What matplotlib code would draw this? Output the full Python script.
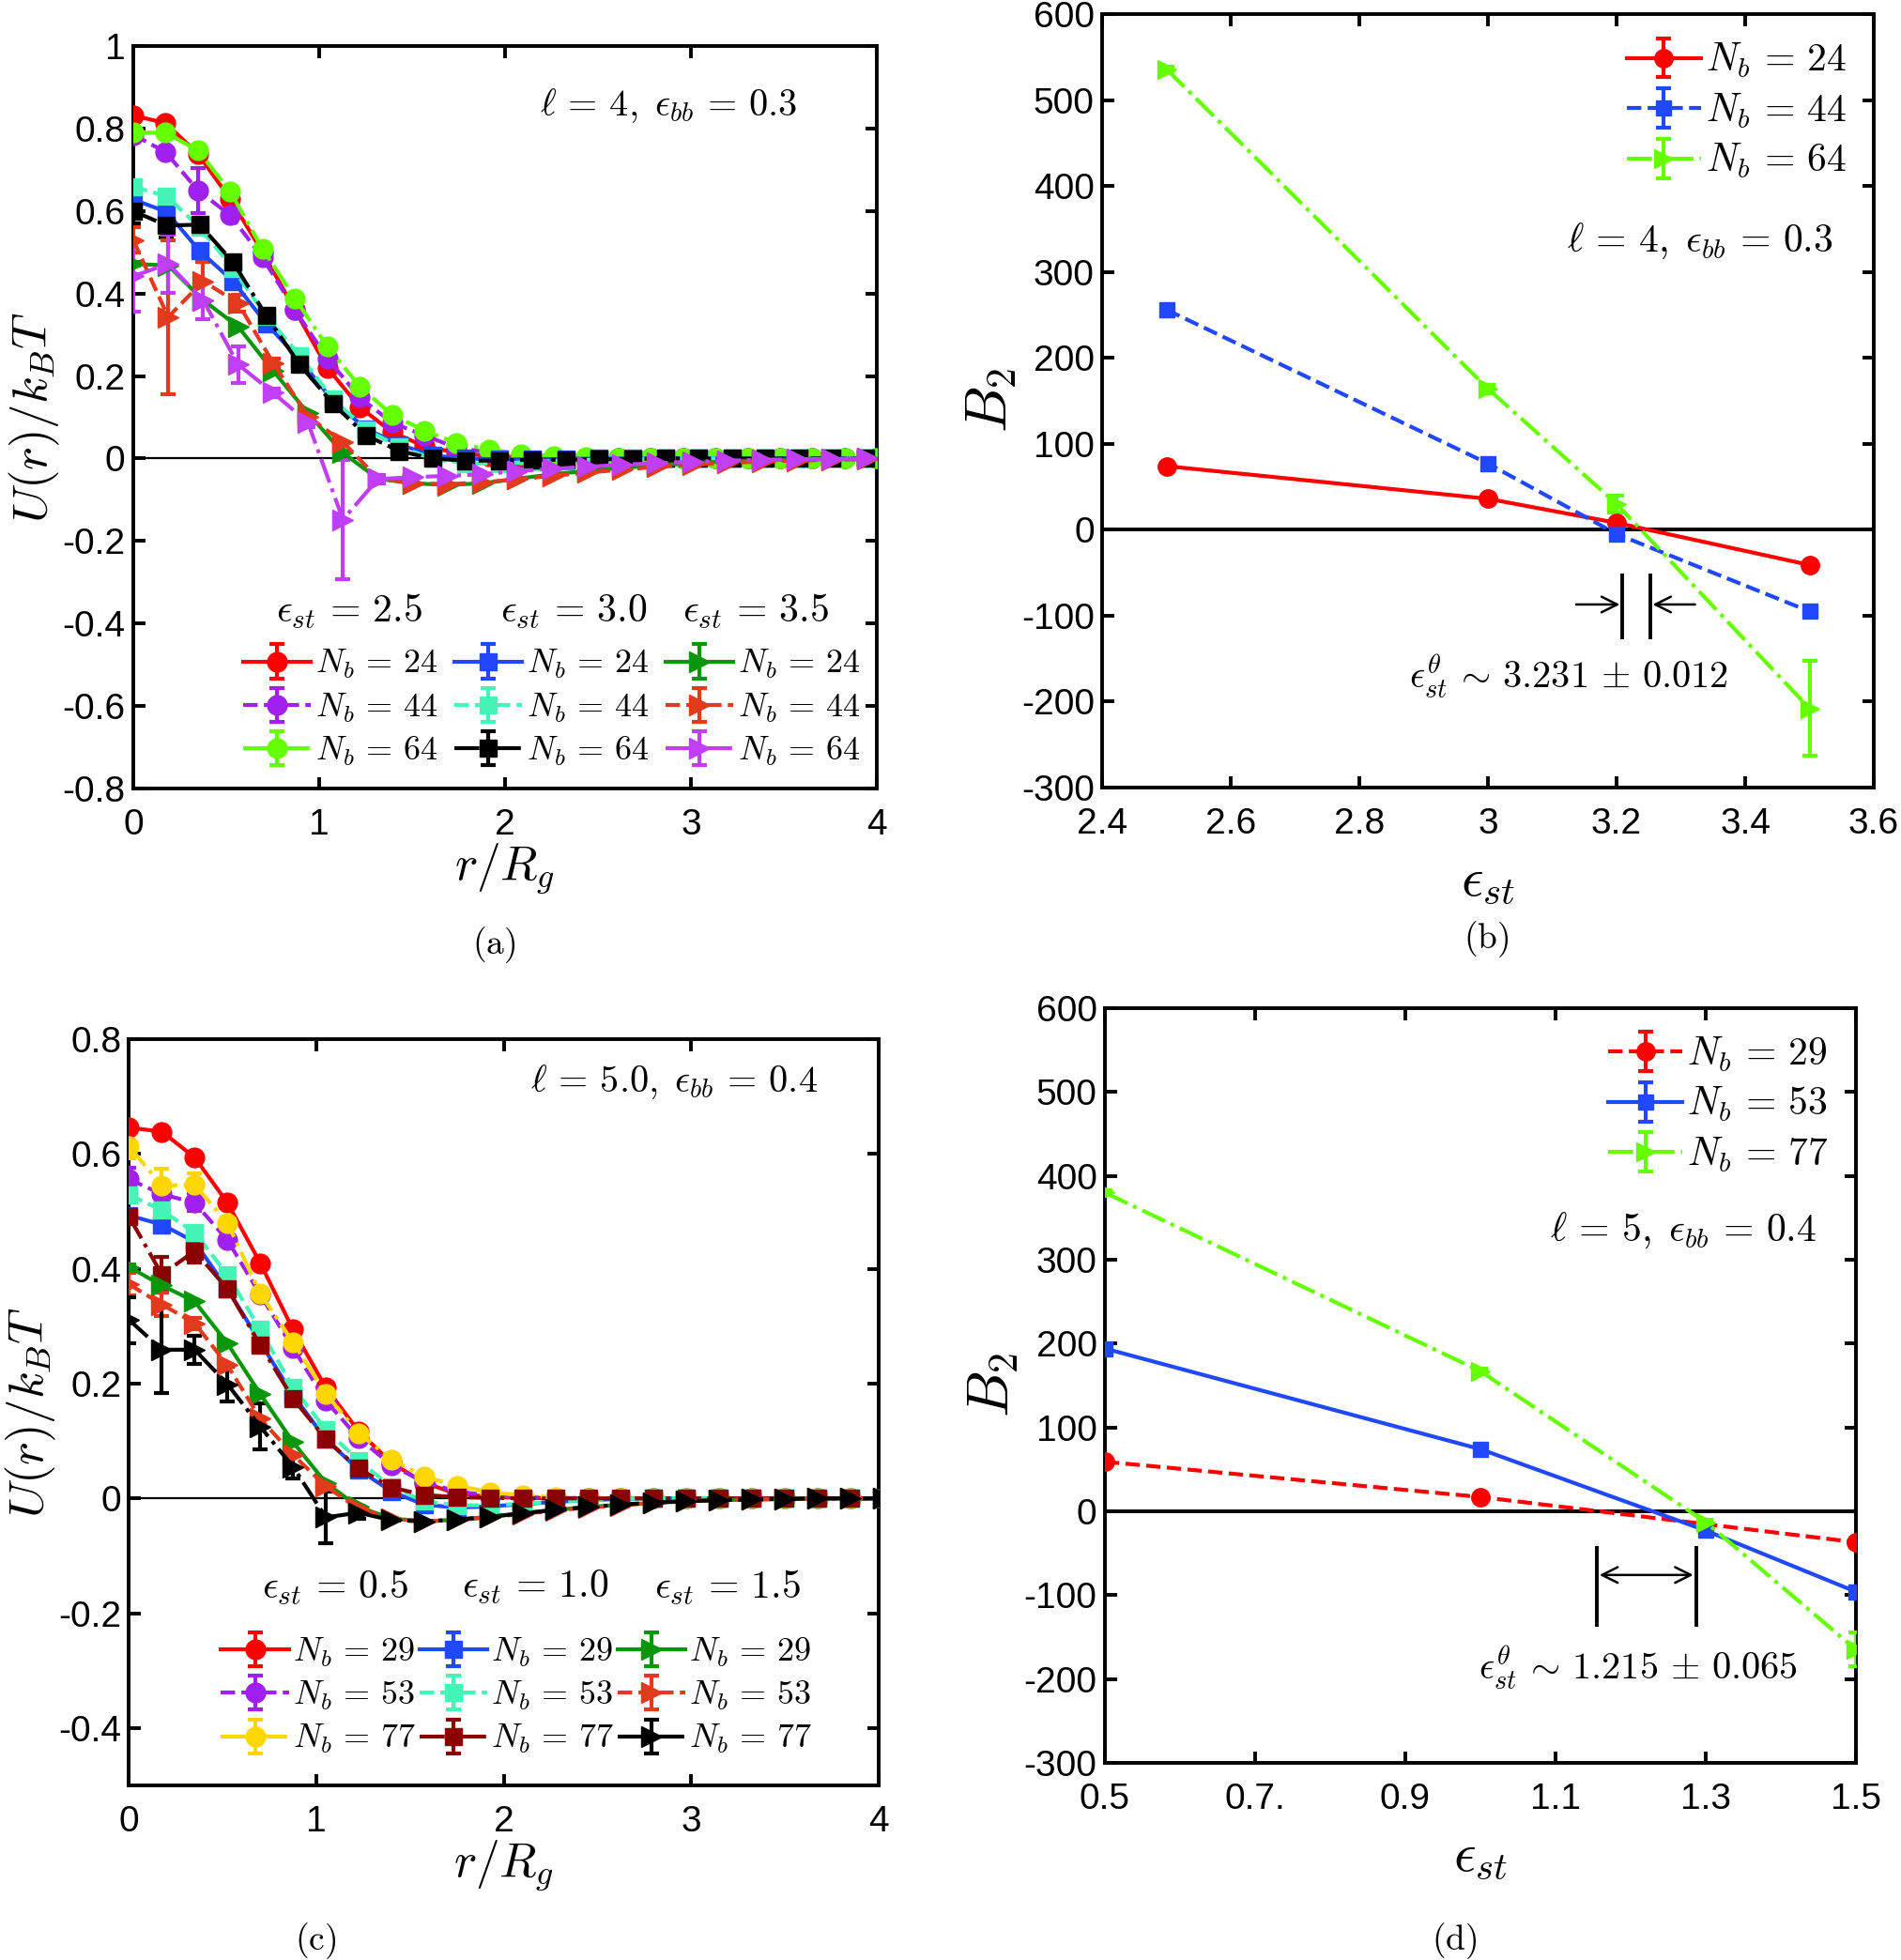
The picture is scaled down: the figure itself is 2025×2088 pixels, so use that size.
import numpy as np
import matplotlib
matplotlib.use("Agg")
import matplotlib.pyplot as plt

plt.rcParams['font.family'] = ['Liberation Sans', 'DejaVu Sans']
plt.rcParams['mathtext.fontset'] = 'cm'
plt.rcParams['axes.unicode_minus'] = False

# ---------------- panel (a): l = 4, eps_bb = 0.3 ----------------
r_a25 = [0, 0.174, 0.348, 0.522, 0.696, 0.87, 1.044, 1.218, 1.392, 1.566, 1.74, 1.914,
         2.088, 2.262, 2.436, 2.61, 2.784, 2.958, 3.132, 3.306, 3.48, 3.654, 3.828, 4.002]
r_a30 = [0, 0.179, 0.358, 0.537, 0.716, 0.895, 1.074, 1.253, 1.432, 1.611, 1.79, 1.969,
         2.148, 2.327, 2.506, 2.685, 2.864, 3.043, 3.222, 3.401, 3.58, 3.759, 3.938, 4.117]
r_a35 = [0, 0.188, 0.376, 0.564, 0.752, 0.94, 1.128, 1.316, 1.504, 1.692, 1.88, 2.068,
         2.256, 2.444, 2.632, 2.82, 3.008, 3.196, 3.384, 3.572, 3.76, 3.948, 4.136, 4.324]

u_a25_24 = [0.832, 0.813, 0.739, 0.629, 0.50, 0.36, 0.22, 0.125, 0.064, 0.03, 0.014, 0.006,
            0.003, 0.001, 0, 0, 0, 0, 0, 0, 0, 0, 0, 0]
u_a25_44 = [0.785, 0.743, 0.65, 0.59, 0.487, 0.36, 0.243, 0.148, 0.087, 0.056, 0.026, 0.015,
            0.008, 0.004, 0.002, 0.001, 0, 0, 0, 0, 0, 0, 0, 0]
u_a25_64 = [0.79, 0.79, 0.747, 0.647, 0.508, 0.388, 0.272, 0.175, 0.106, 0.068, 0.037, 0.022,
            0.011, 0.006, 0.003, 0.002, 0.001, 0, 0, 0, 0, 0, 0, 0]
u_a30_24 = [0.628, 0.598, 0.503, 0.43, 0.327, 0.24, 0.14, 0.072, 0.034, 0.007, 0.0, -0.002,
            -0.002, -0.001, 0, 0, 0, 0, 0, 0, 0, 0, 0, 0]
u_a30_44 = [0.659, 0.636, 0.56, 0.46, 0.345, 0.25, 0.145, 0.07, 0.028, 0.0, -0.012, -0.012,
            -0.008, -0.005, -0.003, -0.001, 0, 0, 0, 0, 0, 0, 0, 0]
u_a30_64 = [0.60, 0.565, 0.567, 0.476, 0.346, 0.228, 0.133, 0.056, 0.018, 0.0, -0.005, -0.005,
            -0.003, -0.003, -0.002, -0.001, 0, 0, 0, 0, 0, 0, 0, 0]
u_a35_24 = [0.472, 0.468, 0.384, 0.32, 0.213, 0.11, 0.014, -0.049, -0.06, -0.064, -0.06, -0.049,
            -0.038, -0.03, -0.022, -0.016, -0.011, -0.007, -0.004, -0.002, -0.001, 0, 0, 0]
u_a35_44 = [0.53, 0.343, 0.43, 0.377, 0.232, 0.102, 0.04, -0.048, -0.06, -0.062, -0.058, -0.05,
            -0.042, -0.034, -0.027, -0.02, -0.015, -0.011, -0.007, -0.005, -0.003, -0.002, -0.001, 0]
u_a35_64 = [0.442, 0.472, 0.384, 0.228, 0.16, 0.087, -0.148, -0.05, -0.045, -0.042, -0.038, -0.03,
            -0.025, -0.02, -0.015, -0.011, -0.008, -0.005, -0.003, -0.002, -0.001, 0, 0, 0]

e_a25_44 = [0.01, 0.01, 0.055, 0.01]
e_a30_64 = [0.03, 0.028, 0.01, 0.01]
e_a35_44 = [0.03, 0.187, 0.047, 0.02, 0.01]
e_a35_64 = [0.085, 0.07, 0.045, 0.045, 0.01, 0.01, 0.145, 0.01]

# ---------------- panel (c): l = 5, eps_bb = 0.4 ----------------
r_c = [0, 0.175, 0.35, 0.525, 0.7, 0.875, 1.05, 1.225, 1.4, 1.575, 1.75, 1.925,
       2.1, 2.275, 2.45, 2.625, 2.8, 2.975, 3.15, 3.325, 3.5, 3.675, 3.85, 4.025]

u_c05_29 = [0.646, 0.639, 0.594, 0.515, 0.41, 0.294, 0.193, 0.117, 0.062, 0.027, 0.008, 0.003,
            0.001, 0, 0, 0, 0, 0, 0, 0, 0, 0, 0, 0]
u_c05_53 = [0.556, 0.53, 0.515, 0.45, 0.355, 0.262, 0.17, 0.105, 0.058, 0.028, 0.012, 0.005,
            0.002, 0.001, 0, 0, 0, 0, 0, 0, 0, 0, 0, 0]
u_c05_77 = [0.613, 0.545, 0.546, 0.48, 0.357, 0.272, 0.182, 0.114, 0.068, 0.038, 0.022, 0.011,
            0.005, 0.002, 0.001, 0, 0, 0, 0, 0, 0, 0, 0, 0]
u_c10_29 = [0.493, 0.477, 0.447, 0.365, 0.272, 0.18, 0.103, 0.05, 0.012, -0.011, -0.016, -0.014,
            -0.01, -0.006, -0.003, -0.001, 0, 0, 0, 0, 0, 0, 0, 0]
u_c10_53 = [0.529, 0.502, 0.463, 0.39, 0.294, 0.193, 0.12, 0.066, 0.02, -0.005, -0.012, -0.012,
            -0.009, -0.006, -0.003, -0.001, 0, 0, 0, 0, 0, 0, 0, 0]
u_c10_77 = [0.491, 0.39, 0.431, 0.365, 0.267, 0.174, 0.103, 0.052, 0.019, 0.006, 0.002, 0.001,
            0, 0, 0, 0, 0, 0, 0, 0, 0, 0, 0, 0]
u_c15_29 = [0.403, 0.371, 0.343, 0.27, 0.182, 0.098, 0.027, -0.015, -0.035, -0.04, -0.037, -0.032,
            -0.026, -0.02, -0.015, -0.011, -0.008, -0.005, -0.003, -0.002, -0.001, 0, 0, 0]
u_c15_53 = [0.373, 0.338, 0.305, 0.232, 0.139, 0.076, 0.021, -0.018, -0.035, -0.04, -0.038, -0.033,
            -0.027, -0.021, -0.016, -0.012, -0.008, -0.005, -0.003, -0.002, -0.001, 0, 0, 0]
u_c15_77 = [0.311, 0.259, 0.259, 0.199, 0.125, 0.055, -0.033, -0.025, -0.038, -0.04, -0.037, -0.032,
            -0.026, -0.02, -0.015, -0.011, -0.007, -0.005, -0.003, -0.002, -0.001, 0, 0, 0]

e_c05_53 = [0.02, 0.02, 0.015]
e_c05_77 = [0.02, 0.03, 0.02, 0.01]
e_c10_77 = [0.01, 0.03, 0.02]
e_c15_53 = [0.02, 0.02, 0.01]
e_c15_77 = [0.04, 0.075, 0.025, 0.03, 0.04, 0.02, 0.045, 0.01]

# ---------------- panel (b): B2 vs eps_st ----------------
eps_b = [2.5, 3.0, 3.2, 3.5]
b2_b24 = [74, 36, 8, -41]
b2_b44 = [256, 77, -5, -95]
b2_b64 = [536, 164, 30, -208]
err_b64 = [3, 5, 10, 55]
theta_b = [3.209, 3.252]

# ---------------- panel (d): B2 vs eps_st ----------------
eps_d29 = [0.5, 1.0, 1.5]
eps_d = [0.5, 1.0, 1.3, 1.5]
b2_d29 = [59, 17, -37]
b2_d53 = [194, 74, -23, -96]
b2_d77 = [380, 167, -13, -165]
err_d77 = [3, 3, 3, 20]
theta_d = [1.155, 1.287]

yt_a = [-0.8, -0.6, -0.4, -0.2, 0, 0.2, 0.4, 0.6, 0.8, 1]
yl_a = ['-0.8', '-0.6', '-0.4', '-0.2', '0', '0.2', '0.4', '0.6', '0.8', '1']
yt_c = [-0.4, -0.2, 0, 0.2, 0.4, 0.6, 0.8]
yl_c = ['-0.4', '-0.2', '0', '0.2', '0.4', '0.6', '0.8']
xt_r = [0, 1, 2, 3, 4]
xt_b = [2.4, 2.6, 2.8, 3.0, 3.2, 3.4, 3.6]
xl_b = ['2.4', '2.6', '2.8', '3', '3.2', '3.4', '3.6']
xt_d = [0.5, 0.7, 0.9, 1.1, 1.3, 1.5]
xl_d = ['0.5', '0.7.', '0.9', '1.1', '1.3', '1.5']
yt_B = [-300, -200, -100, 0, 100, 200, 300, 400, 500, 600]

RED = '#ff0000'
PURPLE = '#a020f0'
LIME = '#66ff00'
BLUE = '#1f48ff'
AQUA = '#45f5b8'
GREEN = '#0a960a'
ORANGE = '#e23a1c'
ORCHID = '#c03ef5'
GOLD = '#ffd700'
MAROON = '#8b0000'

LW = 3.0


def pad(err, n):
    err = list(err)
    return err + [0.0] * (n - len(err))


def series(ax, x, y, err, color, ls, marker, ms, label=None):
    x = np.asarray(x, dtype=float)
    y = np.asarray(y, dtype=float)
    yerr = pad(err, len(y))
    return ax.errorbar(x, y, yerr=yerr, color=color, ls=ls, marker=marker,
                       ms=ms, lw=LW, elinewidth=LW, capsize=6, capthick=LW,
                       label=label, zorder=3)


def nb(n):
    return r'$N_b\,=\,' + n + '$'


def style(ax):
    for sp in ax.spines.values():
        sp.set_linewidth(2.8)
    ax.tick_params(direction='in', length=9, width=2.8, labelsize=28,
                   top=True, right=True)
    ax.tick_params(axis='x', pad=15)
    ax.tick_params(axis='y', pad=6)


fig = plt.figure(figsize=(20.25, 20.88), dpi=100)
ax_a = fig.add_axes([0.0701, 0.5977, 0.3911, 0.3788])
ax_b = fig.add_axes([0.5798, 0.5982, 0.4059, 0.3946])
ax_c = fig.add_axes([0.0679, 0.0891, 0.3943, 0.3807])
ax_d = fig.add_axes([0.5812, 0.1006, 0.3951, 0.3851])

ms_c, ms_s, ms_t = 15, 13, 16
leg3_kw = dict(frameon=False, fontsize=26, handlelength=2.0, handletextpad=0.12,
               labelspacing=0.31, borderpad=0.0)
leg1_kw = dict(frameon=False, fontsize=30, handlelength=1.9, handletextpad=0.12,
               labelspacing=0.3, borderpad=0.0)

# ---- (a)
ax = ax_a
ax.axhline(0, color='k', lw=1.6, zorder=1)
h = [
    series(ax, r_a25, u_a25_24, [0.005], RED, '-', 'o', ms_c),
    series(ax, r_a25, u_a25_44, e_a25_44, PURPLE, '--', 'o', ms_c),
    series(ax, r_a25, u_a25_64, [0.005], LIME, '-.', 'o', ms_c),
    series(ax, r_a30, u_a30_24, [0.005], BLUE, '-', 's', ms_s),
    series(ax, r_a30, u_a30_44, [0.005], AQUA, '--', 's', ms_s),
    series(ax, r_a30, u_a30_64, e_a30_64, 'k', '-.', 's', ms_s),
    series(ax, r_a35, u_a35_24, [0.005], GREEN, '-', '>', ms_t),
    series(ax, r_a35, u_a35_44, e_a35_44, ORANGE, '--', '>', ms_t),
    series(ax, r_a35, u_a35_64, e_a35_64, ORCHID, '-.', '>', ms_t),
]
labs = [nb('24'), nb('44'), nb('64')] * 3
ax.legend(h, labs, ncol=3, loc='lower left', bbox_to_anchor=(0.125, 0.005),
          columnspacing=0.5, **leg3_kw)
for xh, t in zip([0.291, 0.593, 0.837], ['2.5', '3.0', '3.5']):
    ax.text(xh, 0.238, r'$\epsilon_{st}\,=\,' + t + '$', transform=ax.transAxes,
            ha='center', va='center', fontsize=30)
ax.text(2.88, 0.855, r'$\ell\,=\,4,\;\epsilon_{bb}\,=\,0.3$', ha='center', va='center', fontsize=29)
ax.set_xlim(0, 4)
ax.set_ylim(-0.8, 1)
ax.set_xticks(xt_r)
ax.set_yticks(yt_a)
ax.set_yticklabels(yl_a)
ax.set_xlabel(r'$r/R_g$', fontsize=37, labelpad=0)
ax.set_ylabel(r'$U(r)/k_BT$', fontsize=38, labelpad=0)
style(ax)

# ---- (c)
ax = ax_c
ax.axhline(0, color='k', lw=1.6, zorder=1)
h = [
    series(ax, r_c, u_c05_29, [0.005], RED, '-', 'o', ms_c),
    series(ax, r_c, u_c05_53, e_c05_53, PURPLE, '--', 'o', ms_c),
    series(ax, r_c, u_c05_77, e_c05_77, GOLD, '-.', 'o', ms_c),
    series(ax, r_c, u_c10_29, [0.005], BLUE, '-', 's', ms_s),
    series(ax, r_c, u_c10_53, [0.005], AQUA, '--', 's', ms_s),
    series(ax, r_c, u_c10_77, e_c10_77, MAROON, '-.', 's', ms_s),
    series(ax, r_c, u_c15_29, [0.005], GREEN, '-', '>', ms_t),
    series(ax, r_c, u_c15_53, e_c15_53, ORANGE, '--', '>', ms_t),
    series(ax, r_c, u_c15_77, e_c15_77, 'k', '-.', '>', ms_t),
]
labs = [nb('29'), nb('53'), nb('77')] * 3
ax.legend(h, labs, ncol=3, loc='lower left', bbox_to_anchor=(0.1, 0.017),
          columnspacing=0.1, **leg3_kw)
for xh, t in zip([0.275, 0.542, 0.798], ['0.5', '1.0', '1.5']):
    ax.text(xh, 0.265, r'$\epsilon_{st}\,=\,' + t + '$', transform=ax.transAxes,
            ha='center', va='center', fontsize=30)
ax.text(2.91, 0.726, r'$\ell\,=\,5.0,\;\epsilon_{bb}\,=\,0.4$', ha='center', va='center', fontsize=29)
ax.set_xlim(0, 4)
ax.set_ylim(-0.5, 0.8)
ax.set_xticks(xt_r)
ax.set_yticks(yt_c)
ax.set_yticklabels(yl_c)
ax.set_xlabel(r'$r/R_g$', fontsize=37, labelpad=0)
ax.set_ylabel(r'$U(r)/k_BT$', fontsize=38, labelpad=0)
style(ax)

# ---- (b)
ax = ax_b
ax.axhline(0, color='k', lw=2.8, zorder=1.5)
h = [
    series(ax, eps_b, b2_b24, [0], RED, '-', 'o', 14),
    series(ax, eps_b, b2_b44, [0], BLUE, '--', 's', 12),
    series(ax, eps_b, b2_b64, err_b64, LIME, '-.', '>', 14),
]
ax.legend(h, [nb('24'), nb('44'), nb('64')], loc='upper right',
          bbox_to_anchor=(0.99, 0.99), **leg1_kw)
ax.text(3.33, 336, r'$\ell\,=\,4,\;\epsilon_{bb}\,=\,0.3$', ha='center', va='center', fontsize=30)
ax.vlines(theta_b, -128, -51, color='k', lw=2.8)
ax.annotate('', xy=(theta_b[0], -87), xytext=(3.133, -87),
            arrowprops=dict(arrowstyle='->', lw=1.8, color='k', mutation_scale=30))
ax.annotate('', xy=(theta_b[1], -87), xytext=(3.326, -87),
            arrowprops=dict(arrowstyle='->', lw=1.8, color='k', mutation_scale=30))
ax.text(3.125, -172, r'$\epsilon_{st}^{\theta}\,\sim\,3.231\,\pm\,0.012$', ha='center', va='center', fontsize=29)
ax.set_xlim(2.4, 3.6)
ax.set_ylim(-300, 600)
ax.set_xticks(xt_b)
ax.set_xticklabels(xl_b)
ax.set_yticks(yt_B)
ax.set_xlabel(r'$\epsilon_{st}$', fontsize=42, labelpad=12)
ax.set_ylabel(r'$B_2$', fontsize=45, labelpad=2)
style(ax)

# ---- (d)
ax = ax_d
ax.axhline(0, color='k', lw=2.8, zorder=1.5)
h = [
    series(ax, eps_d29, b2_d29, [0], RED, '--', 'o', 14),
    series(ax, eps_d, b2_d53, [0], BLUE, '-', 's', 12),
    series(ax, eps_d, b2_d77, err_d77, LIME, '-.', '>', 14),
]
ax.legend(h, [nb('29'), nb('53'), nb('77')], loc='upper right',
          bbox_to_anchor=(0.99, 0.99), **leg1_kw)
ax.text(1.27, 335, r'$\ell\,=\,5,\;\epsilon_{bb}\,=\,0.4$', ha='center', va='center', fontsize=30)
ax.vlines(theta_d, -138, -41, color='k', lw=2.8)
ax.annotate('', xy=(theta_d[0], -76), xytext=(theta_d[1], -76),
            arrowprops=dict(arrowstyle='<->', lw=1.8, color='k', mutation_scale=30))
ax.text(1.21, -187, r'$\epsilon_{st}^{\theta}\,\sim\,1.215\,\pm\,0.065$', ha='center', va='center', fontsize=29)
ax.set_xlim(0.5, 1.5)
ax.set_ylim(-300, 600)
ax.set_xticks(xt_d)
ax.set_xticklabels(xl_d)
ax.set_yticks(yt_B)
ax.set_xlabel(r'$\epsilon_{st}$', fontsize=42, labelpad=12)
ax.set_ylabel(r'$B_2$', fontsize=45, labelpad=2)
style(ax)

for x, y, t in [(0.260, 0.518, '(a)'), (0.782, 0.521, '(b)'),
                (0.166, 0.010, '(c)'), (0.765, 0.010, '(d)')]:
    fig.text(x, y, r'$\mathrm{' + t + '}$', ha='center', va='center', fontsize=27)

fig.savefig('out.png', dpi=100)
